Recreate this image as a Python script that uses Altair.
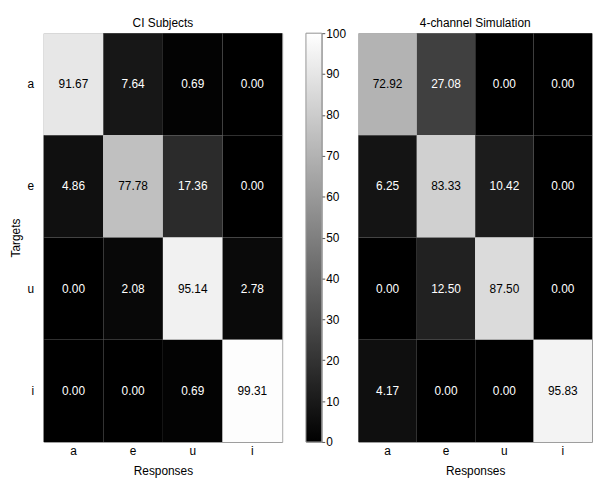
import altair as alt
import pandas as pd

responses = ["a", "e", "u", "i"]
targets = ["a", "e", "u", "i"]
ci_values = [
    [91.67, 7.64, 0.69, 0.00],
    [4.86, 77.78, 17.36, 0.00],
    [0.00, 2.08, 95.14, 2.78],
    [0.00, 0.00, 0.69, 99.31],
]
sim_values = [
    [72.92, 27.08, 0.00, 0.00],
    [6.25, 83.33, 10.42, 0.00],
    [0.00, 12.50, 87.50, 0.00],
    [4.17, 0.00, 0.00, 95.83],
]
colorbar_ticks = [0, 10, 20, 30, 40, 50, 60, 70, 80, 90, 100]
titles = ["CI Subjects", "4-channel Simulation"]

FONT = "Liberation Sans"
W_LEFT = 241
W_RIGHT = 236
H = 413


def frame(vals):
    rows = []
    for i, t in enumerate(targets):
        for j, r in enumerate(responses):
            rows.append({"Targets": t, "Responses": r, "v": vals[i][j],
                         "label": f"{vals[i][j]:.2f}"})
    return pd.DataFrame(rows)


color_scale = alt.Scale(domain=[0, 100], range=["#000000", "#ffffff"])


def panel(vals, title, show_y, width):
    base = alt.Chart(frame(vals))
    x = alt.X("Responses:N", sort=responses, title="Responses",
              scale=alt.Scale(paddingInner=0, paddingOuter=0),
              axis=alt.Axis(labelAngle=0, ticks=False, domain=False,
                            labelPadding=4, titlePadding=9))
    if show_y:
        y = alt.Y("Targets:N", sort=targets, title="Targets",
                  scale=alt.Scale(paddingInner=0, paddingOuter=0),
                  axis=alt.Axis(ticks=False, domain=False, labelPadding=10,
                                titlePadding=5))
    else:
        y = alt.Y("Targets:N", sort=targets,
                  scale=alt.Scale(paddingInner=0, paddingOuter=0), axis=None)
    rect = base.mark_rect().encode(
        x=x, y=y,
        color=alt.Color("v:Q", scale=color_scale, legend=None),
    )
    text = base.mark_text(font=FONT, fontSize=12).encode(
        x=alt.X("Responses:N", sort=responses),
        y=alt.Y("Targets:N", sort=targets),
        text="label:N",
        color=alt.when(alt.datum.v > 50).then(alt.value("black")).otherwise(alt.value("white")),
    )
    return alt.layer(rect, text).properties(width=width, height=H, title=title)


left = panel(ci_values, titles[0], True, W_LEFT)
right = panel(sim_values, titles[1], False, W_RIGHT)

cbar = alt.Chart(pd.DataFrame({"lo": [0], "hi": [100]})).mark_rect(
    color=alt.Gradient(
        gradient="linear",
        stops=[alt.GradientStop(color="#000000", offset=0),
               alt.GradientStop(color="#ffffff", offset=1)],
        x1=0, x2=0, y1=1, y2=0,
    ),
    stroke="#999999", strokeWidth=1,
).encode(
    y=alt.Y("lo:Q", scale=alt.Scale(domain=[0, 100], nice=False),
            axis=alt.Axis(orient="right", values=colorbar_ticks, tickSize=3,
                          labelPadding=1, domain=False, grid=False, title=None,
                          tickColor="#555555")),
    y2="hi:Q",
    x=alt.value(0),
    x2=alt.value(16),
).properties(width=16, height=H, title=" ")

chart = alt.hconcat(
    alt.hconcat(left, cbar, spacing=22),
    right,
    spacing=11,
).properties(padding=0).configure_view(
    stroke="#999999", strokeWidth=1
).configure_axis(
    labelFont=FONT, titleFont=FONT, labelFontSize=12, titleFontSize=12,
    labelColor="#000000", titleColor="#000000", titleFontWeight="normal",
    grid=False,
).configure_title(
    font=FONT, fontSize=12, fontWeight="normal", color="#000000", offset=3,
    anchor="middle",
)

chart.save("out.html", embed_options={"renderer": "svg", "actions": False})
